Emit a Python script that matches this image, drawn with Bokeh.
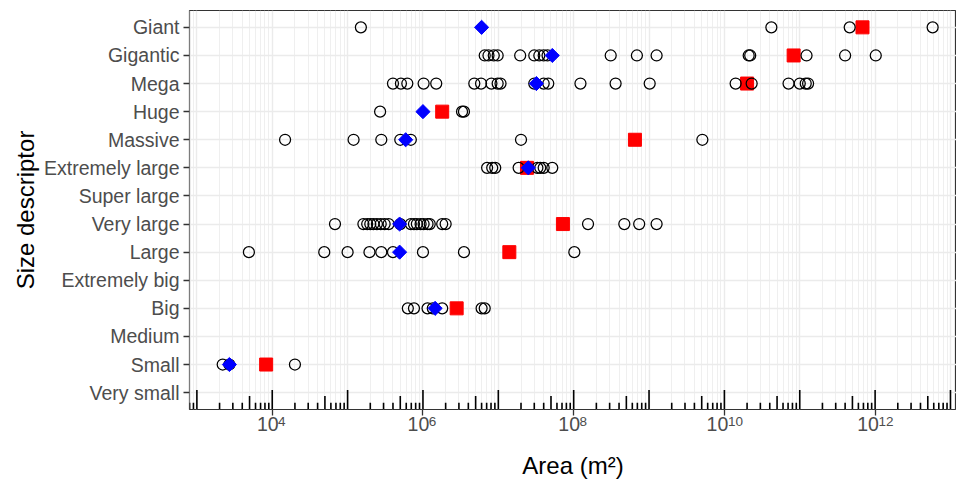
from bokeh.plotting import figure
from bokeh.models import Range1d, FixedTicker, LogAxis
from bokeh.embed import file_html
from bokeh.resources import INLINE
import numpy as np

# ---------------- data ----------------
categories = ["Very small", "Small", "Medium", "Big", "Extremely big", "Large",
              "Very large", "Super large", "Extremely large", "Massive", "Huge",
              "Mega", "Gigantic", "Giant"]

giant_obs = [1.5e5, 4.2e10, 4.6e11, 5.8e12]
gigantic_obs = [6.6e6, 7.4e6, 8.7e6, 9.8e6, 1.95e7, 3.0e7, 3.5e7, 4.0e7, 4.5e7,
                3.1e8, 6.9e8, 1.26e9, 2.1e10, 2.2e10, 1.23e11, 4.0e11, 1.02e12]
mega_obs = [4.0e5, 5.1e5, 6.2e5, 1.02e6, 1.5e6, 4.8e6, 5.9e6, 8.1e6, 9.8e6, 1.07e7,
            3.0e7, 4.0e7, 4.6e7, 1.23e8, 3.6e8, 1.02e9, 1.41e10, 2.3e10, 7.1e10,
            1.0e11, 1.2e11, 1.29e11]
huge_obs = [2.7e5, 3.3e6, 3.5e6]
massive_obs = [1.48e4, 1.2e5, 2.8e5, 5.0e5, 6.9e5, 2.0e7, 5.1e9]
extremely_large_obs = [7.1e6, 8.3e6, 9.1e6, 1.86e7, 3.3e7, 3.6e7, 4.0e7, 5.2e7]
super_large_obs = []
very_large_obs = [6.8e4, 1.62e5, 1.82e5, 2.0e5, 2.2e5, 2.45e5, 2.75e5, 3.1e5, 3.5e5,
                  5.0e5, 6.9e5, 7.6e5, 8.3e5, 9.3e5, 1.02e6, 1.15e6, 1.23e6, 1.8e6,
                  2.0e6, 1.55e8, 4.7e8, 7.4e8, 1.26e9]
large_obs = [4.9e3, 4.9e4, 1.0e5, 1.95e5, 2.8e5, 4.0e5, 1.0e6, 3.5e6, 1.02e8]
extremely_big_obs = []
big_obs = [6.3e5, 7.6e5, 1.15e6, 1.35e6, 1.8e6, 6.0e6, 6.6e6]
medium_obs = []
small_obs = [2.2e3, 2.7e3, 2.0e4]
very_small_obs = []

obs_by_category = [very_small_obs, small_obs, medium_obs, big_obs, extremely_big_obs,
                   large_obs, very_large_obs, super_large_obs, extremely_large_obs,
                   massive_obs, huge_obs, mega_obs, gigantic_obs, giant_obs]

# summary markers (red square / blue diamond)
square_categories = ["Small", "Big", "Large", "Very large", "Extremely large",
                     "Massive", "Huge", "Mega", "Gigantic", "Giant"]
square_area = [8.3e3, 2.8e6, 1.4e7, 7.2e7, 2.4e7, 6.5e8, 1.8e6, 2.0e10, 8.3e10, 6.8e11]

diamond_categories = ["Small", "Big", "Large", "Very large", "Extremely large",
                      "Massive", "Huge", "Mega", "Gigantic", "Giant"]
diamond_area = [2.7e3, 1.45e6, 4.9e5, 4.9e5, 2.5e7, 5.9e5, 1.0e6, 3.2e7, 5.2e7, 6.0e6]

x_tick_values = [1e4, 1e6, 1e8, 1e10, 1e12]
x_tick_base = "10"
x_tick_exponents = ["4", "6", "8", "10", "12"]

# ---------------- figure ----------------
LOG_LO, LOG_HI = 2.902, 13.08
X_LO, X_HI = 10 ** LOG_LO, 10 ** LOG_HI
Y_LO, Y_HI = 0.4, len(categories) + 0.6
W, H = 956, 484
BORDER_L, BORDER_R, BORDER_T, BORDER_B = 189, 0, 10, 75

p = figure(width=W, height=H, x_axis_type="log",
           x_range=Range1d(X_LO, X_HI), y_range=Range1d(Y_LO, Y_HI),
           output_backend="svg", toolbar_location=None,
           min_border_left=BORDER_L, min_border_right=BORDER_R,
           min_border_top=BORDER_T, min_border_bottom=BORDER_B)

p.background_fill_color = "white"
p.border_fill_color = "white"
p.outline_line_color = "#333333"
p.outline_line_width = 1.2

ypos = {c: i + 1 for i, c in enumerate(categories)}
px_per_unit = (H - BORDER_T - BORDER_B) / (Y_HI - Y_LO)
px_per_decade = (W - BORDER_L - BORDER_R) / (LOG_HI - LOG_LO)

# grids
decades = [10.0 ** k for k in range(2, 14)]
minors = [m * d for d in decades for m in range(2, 10)]
p.xgrid.ticker = FixedTicker(ticks=decades, minor_ticks=minors)
p.xgrid.grid_line_color = "#EBEBEB"
p.xgrid.grid_line_width = 1.4
p.xgrid.minor_grid_line_color = "#EBEBEB"
p.xgrid.minor_grid_line_width = 0.8
p.ygrid.ticker = FixedTicker(ticks=list(range(1, len(categories) + 1)))
p.ygrid.grid_line_color = "#EBEBEB"
p.ygrid.grid_line_width = 1.4

FONT = "Liberation Sans"
TICK_COLOR = "#4D4D4D"

def shifted(v, px):
    return v * 10 ** (px / px_per_decade)

# x axis 1 (next to the panel): tick marks at the decades + the exponents
exp_ax = p.below[0]
exp_pos = [shifted(v, 9.5 if len(e) == 1 else 11.0)
           for v, e in zip(x_tick_values, x_tick_exponents)]
exp_ax.ticker = FixedTicker(ticks=exp_pos, minor_ticks=x_tick_values)
exp_ax.major_label_overrides = {v: e for v, e in zip(exp_pos, x_tick_exponents)}
exp_ax.axis_line_color = None
exp_ax.major_tick_line_color = None
exp_ax.major_tick_out = 6
exp_ax.major_tick_in = 0
exp_ax.minor_tick_line_color = "#333333"
exp_ax.minor_tick_line_width = 1.3
exp_ax.minor_tick_out = 6
exp_ax.minor_tick_in = 0
exp_ax.major_label_standoff = 1
exp_ax.major_label_text_font = FONT
exp_ax.major_label_text_font_size = "13.5px"
exp_ax.major_label_text_color = TICK_COLOR

# x axis 2: the "10" bases, pulled up next to the exponents, and the title
base_pos = [shifted(v, -4.5 if len(e) == 1 else -7.0)
            for v, e in zip(x_tick_values, x_tick_exponents)]
base_ax = LogAxis(ticker=FixedTicker(ticks=base_pos, minor_ticks=[]),
                  major_label_overrides={v: x_tick_base for v in base_pos},
                  axis_line_color=None, major_tick_line_color=None,
                  minor_tick_line_color=None, major_tick_out=0, major_tick_in=0,
                  minor_tick_out=0, minor_tick_in=0,
                  major_label_standoff=-12,
                  major_label_text_font=FONT, major_label_text_font_size="19.5px",
                  major_label_text_color=TICK_COLOR,
                  axis_label="Area (m\u00b2)", axis_label_standoff=18,
                  axis_label_text_font=FONT, axis_label_text_font_size="24px",
                  axis_label_text_font_style="normal", axis_label_text_color="black")
p.add_layout(base_ax, "below")

# y axis
yax = p.yaxis[0]
yax.ticker = FixedTicker(ticks=list(range(1, len(categories) + 1)))
yax.major_label_overrides = {i + 1: c for i, c in enumerate(categories)}
yax.axis_line_color = None
yax.major_tick_line_color = "#333333"
yax.major_tick_line_width = 1.3
yax.major_tick_out = 6
yax.major_tick_in = 0
yax.minor_tick_line_color = None
yax.major_label_text_font = FONT
yax.major_label_text_font_size = "19.5px"
yax.major_label_text_color = TICK_COLOR
yax.axis_label = "Size descriptor"
yax.axis_label_text_font = FONT
yax.axis_label_text_font_size = "24px"
yax.axis_label_text_font_style = "normal"
yax.axis_label_text_color = "black"
yax.major_label_standoff = 4
yax.axis_label_standoff = 2

# log ticks (annotation inside panel, along the bottom)
lt_x, lt_y1 = [], []
for d in decades:
    for m in range(1, 10):
        v = m * d
        if X_LO <= v <= X_HI:
            length = 19.5 if m == 1 else (13.5 if m == 5 else 6.8)
            lt_x.append(v)
            lt_y1.append(Y_LO + length / px_per_unit)
p.segment(x0=lt_x, y0=[Y_LO] * len(lt_x), x1=lt_x, y1=lt_y1,
          line_color="black", line_width=1.6)

# red squares
p.scatter(x=square_area, y=[ypos[c] for c in square_categories], marker="square",
          size=13, fill_color="#FF0000", line_color="#FF0000", line_width=1)

# observations
ox, oy = [], []
for cat, vals in zip(categories, obs_by_category):
    for v in vals:
        ox.append(v)
        oy.append(ypos[cat])
p.scatter(x=ox, y=oy, marker="circle", size=11, fill_color=None,
          line_color="black", line_width=1.25)

# blue diamonds
p.scatter(x=diamond_area, y=[ypos[c] for c in diamond_categories], marker="square",
          angle=np.pi / 4, size=10, fill_color="#0000FF", line_color="#0000FF",
          line_width=1)

open("out.html", "w").write(file_html(p, INLINE))
